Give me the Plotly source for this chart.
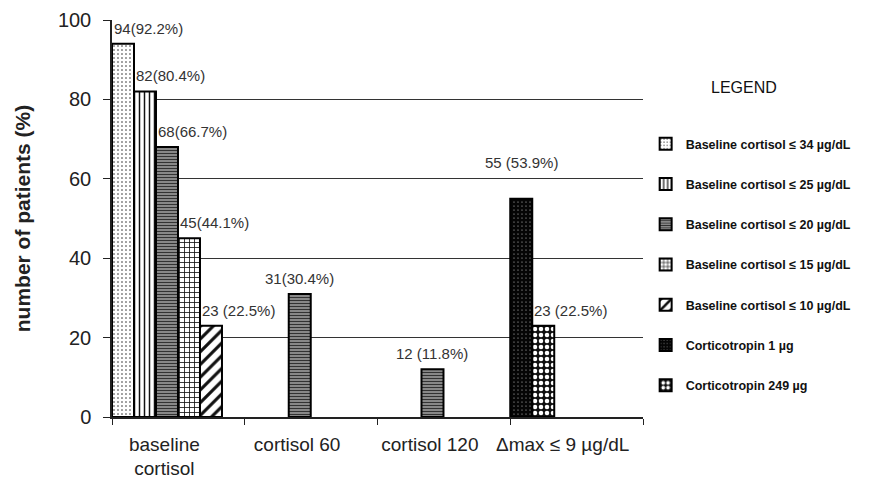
import plotly.graph_objects as go

# ---- data ----
categories = ["baseline<br>cortisol", "cortisol 60", "cortisol 120", "Δmax ≤ 9 µg/dL"]
series_names = [
    "Baseline cortisol ≤ 34 µg/dL",
    "Baseline cortisol ≤ 25 µg/dL",
    "Baseline cortisol ≤ 20 µg/dL",
    "Baseline cortisol ≤ 15 µg/dL",
    "Baseline cortisol ≤ 10 µg/dL",
    "Corticotropin 1 µg",
    "Corticotropin 249 µg",
]
# patients per category (None = no bar)
counts = [
    [94, None, None, None],
    [82, None, None, None],
    [68, 31, 12, None],
    [45, None, None, None],
    [23, None, None, None],
    [None, None, None, 55],
    [None, None, None, 23],
]
labels = [
    ["94(92.2%)", None, None, None],
    ["82(80.4%)", None, None, None],
    ["68(66.7%)", "31(30.4%)", "12 (11.8%)", None],
    ["45(44.1%)", None, None, None],
    ["23 (22.5%)", None, None, None],
    [None, None, None, "55 (53.9%)"],
    [None, None, None, "23 (22.5%)"],
]
y_ticks = [0, 20, 40, 60, 80, 100]

# ---- style ----
slot = [0, 1, 2, 3, 4, 0, 1]          # position of each series inside a category group
W = 0.1657                              # bar width (category units)
patterns = [
    dict(shape=".", fgcolor="#222", bgcolor="white", size=4, solidity=0.12),
    dict(shape="|", fgcolor="#111", bgcolor="white", size=5, solidity=0.3),
    dict(shape="-", fgcolor="#333", bgcolor="#9a9a9a", size=3, solidity=0.45),
    dict(shape="+", fgcolor="#111", bgcolor="white", size=5, solidity=0.3),
    dict(shape="/", fgcolor="#111", bgcolor="white", size=9, solidity=0.35),
    dict(shape=".", fgcolor="#cccccc", bgcolor="#050505", size=4, solidity=0.07),
    dict(shape=".", fgcolor="white", bgcolor="#111", size=6, solidity=0.45),
]
FONT = "Arial, Liberation Sans, sans-serif"

fig = go.Figure()
annotations = []
for i, name in enumerate(series_names):
    xs, ys = [], []
    for c, cat in enumerate(categories):
        v = counts[i][c]
        if v is None:
            continue
        xs.append(cat)
        ys.append(v)
        off = -0.5 + slot[i] * W
        lab = labels[i][c]
        if lab:
            left_aligned = (c == 0) or (i == 6)
            annotations.append(dict(
                x=c + off + (0 if left_aligned else W / 2), y=v,
                xref="x", yref="y", text=lab, showarrow=False,
                xanchor="left" if left_aligned else "center", yanchor="bottom",
                yshift=26 if i == 5 else 5,
                font=dict(family=FONT, size=15, color="#333"),
            ))
    p = patterns[i]
    fig.add_trace(go.Bar(
        name="<b>" + name + "</b>", x=xs, y=ys,
        offset=-0.5 + slot[i] * W, width=W,
        legendgroup="g%d" % i,
        marker=dict(color=p["bgcolor"], line=dict(color="black", width=2),
                    pattern=dict(shape=p["shape"], fgcolor=p["fgcolor"], bgcolor=p["bgcolor"],
                                 size=p["size"], solidity=p["solidity"], fillmode="replace")),
    ))

annotations.append(dict(x=1.19, y=0.83, xref="paper", yref="paper", text="LEGEND",
                        showarrow=False, xanchor="center", yanchor="middle",
                        font=dict(family=FONT, size=16, color="#111")))

fig.update_layout(
    width=861, height=475,
    margin=dict(l=104, r=226, t=12, b=66),
    paper_bgcolor="white", plot_bgcolor="white",
    barmode="overlay",
    showlegend=True,
    legend=dict(x=1.005, y=0.725, xanchor="left", yanchor="top",
                font=dict(family=FONT, size=12.5, color="#111"),
                tracegroupgap=21, itemwidth=30, bgcolor="rgba(0,0,0,0)"),
    annotations=annotations,
    font=dict(family=FONT, color="#222"),
)
fig.update_xaxes(
    type="category", categoryorder="array", categoryarray=categories,
    range=[-0.5, 3.5], tickson="boundaries", ticks="outside", ticklen=6,
    tickcolor="#222", showline=True, linecolor="#222", linewidth=1.5,
    showgrid=False, tickfont=dict(family=FONT, size=19, color="#222"),
    tickangle=0, automargin=False, ticklabelshift=-14, ticklabelstandoff=9,
)
fig.update_yaxes(
    range=[0, 100], tickvals=y_ticks, ticks="outside", ticklen=7, tickcolor="#222",
    showline=True, linecolor="#222", linewidth=1.5,
    showgrid=True, gridcolor="#333", gridwidth=1.2, zeroline=False,
    tickfont=dict(family=FONT, size=20, color="#222"), ticklabelstandoff=8,
    automargin=False,
    title=dict(text="<b>number of patients (%)</b>", font=dict(family=FONT, size=21, color="#222"),
               standoff=22),
)

fig.write_html("out.html")
